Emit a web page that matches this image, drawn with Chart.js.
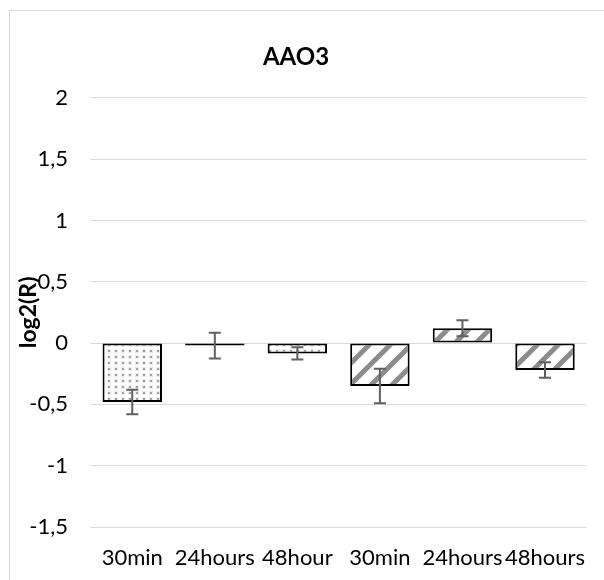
<!DOCTYPE html>
<html>
<head>
<meta charset="utf-8">
<script src="https://cdn.jsdelivr.net/npm/chart.js@4"></script>
<style>
    html, body { margin: 0; padding: 0; background: #fff; overflow: hidden; }
    #wrap { position: relative; width: 604px; height: 580px; }
    #frame { position: absolute; left: 9px; top: 10px; width: 700px; height: 700px; border: 1px solid #d9d9d9; }
    #chart { position: absolute; left: 0; top: 0; }
</style>
</head>
<body>
<div id="wrap">
    <div id="frame"></div>
    <canvas id="chart" width="604" height="580"></canvas>
</div>
<script>
// categories on the x axis
const categories = ['30min', '24hours', '48hour', '30min', '24hours', '48hours'];

// first group (dotted bars) and second group (hatched bars)
const dottedValues = [-0.48, -0.02, -0.085, null, null, null];
const dottedErrors = [0.10, 0.105, 0.05, null, null, null];
const hatchedValues = [null, null, null, -0.35, 0.12, -0.22];
const hatchedErrors = [null, null, null, 0.14, 0.065, 0.063];

// y axis ticks
const yTickValues = [-1.5, -1, -0.5, 0, 0.5, 1, 1.5, 2];
const yTickLabels = ['-1,5', '-1', '-0,5', '0', '0,5', '1', '1,5', '2'];

document.addEventListener('DOMContentLoaded', () => {
    const ctx = document.getElementById('chart').getContext('2d');

    // small dot fill like the Excel 5% pattern
    function dotPattern() {
        const c = document.createElement('canvas');
        c.width = 7;
        c.height = 6;
        const p = c.getContext('2d');
        p.fillStyle = '#fff';
        p.fillRect(0, 0, 7, 6);
        p.fillStyle = '#ececec';
        p.fillRect(2, 1, 4, 4);
        p.fillStyle = '#a0a0a0';
        p.fillRect(3, 2, 2, 2);
        return ctx.createPattern(c, 'repeat');
    }

    // wide upward diagonal stripes
    function stripePattern() {
        const s = 21;
        const c = document.createElement('canvas');
        c.width = s;
        c.height = s;
        const p = c.getContext('2d');
        p.fillStyle = '#fff';
        p.fillRect(0, 0, s, s);
        p.strokeStyle = '#8c8c8c';
        p.lineWidth = 5;
        for (const k of [-s, 0, s]) {
            p.beginPath();
            p.moveTo(k - 4, s + 4);
            p.lineTo(k + s + 4, -4);
            p.stroke();
        }
        return ctx.createPattern(c, 'repeat');
    }

    // draws the error bars using the chart's own scales
    const errorBars = {
        id: 'errorBars',
        afterDatasetsDraw(chart) {
            const y = chart.scales.y;
            const c = chart.ctx;
            c.save();
            c.strokeStyle = '#606060';
            c.lineWidth = 2;
            chart.data.datasets.forEach((ds, di) => {
                const meta = chart.getDatasetMeta(di);
                meta.data.forEach((bar, i) => {
                    const v = ds.data[i];
                    const e = ds.errors[i];
                    if (v === null || e === null) return;
                    const x = bar.x;
                    const top = y.getPixelForValue(v + e);
                    const bottom = y.getPixelForValue(v - e);
                    c.beginPath();
                    c.moveTo(x, top);
                    c.lineTo(x, bottom);
                    c.moveTo(x - 6, top);
                    c.lineTo(x + 6, top);
                    c.moveTo(x - 6, bottom);
                    c.lineTo(x + 6, bottom);
                    c.stroke();
                });
            });
            c.restore();
        }
    };

    new Chart(ctx, {
        type: 'bar',
        data: {
            labels: categories,
            datasets: [
                {
                    data: dottedValues,
                    errors: dottedErrors,
                    backgroundColor: dotPattern(),
                    borderColor: '#000',
                    borderWidth: 2,
                    borderSkipped: false
                },
                {
                    data: hatchedValues,
                    errors: hatchedErrors,
                    backgroundColor: stripePattern(),
                    borderColor: '#000',
                    borderWidth: 2,
                    borderSkipped: false
                }
            ]
        },
        options: {
            responsive: false,
            animation: false,
            layout: { padding: { left: 0, right: 12, top: 0, bottom: 0 } },
            datasets: {
                bar: { barPercentage: 0.72, categoryPercentage: 1 }
            },
            scales: {
                x: {
                    stacked: true,
                    grid: { display: false, drawTicks: false },
                    border: { display: false },
                    ticks: {
                        padding: 18,
                        color: '#000',
                        maxRotation: 0,
                        autoSkip: false,
                        font: { family: 'Lato', size: 22 }
                    },
                    afterFit: (scale) => { scale.height = 53; }
                },
                y: {
                    min: -1.5,
                    max: 2,
                    grid: { color: '#d9d9d9', lineWidth: 1, drawTicks: false },
                    border: { display: false },
                    afterBuildTicks: (scale) => {
                        scale.ticks = yTickValues.map(v => ({ value: v }));
                    },
                    ticks: {
                        padding: 23,
                        color: '#000',
                        font: { family: 'Lato', size: 22 },
                        callback: (value, index) => yTickLabels[index]
                    },
                    title: {
                        display: true,
                        text: 'log2(R)',
                        color: '#000',
                        padding: { top: 15, bottom: 0 },
                        font: { family: 'Lato', size: 23, weight: 'bold' }
                    },
                    afterFit: (scale) => { scale.width = 91; }
                }
            },
            plugins: {
                legend: { display: false },
                tooltip: { enabled: false },
                title: {
                    display: true,
                    text: 'AAO3',
                    color: '#000',
                    padding: { top: 43, bottom: 26 },
                    font: { family: 'Lato', size: 24, weight: 'bold' }
                }
            }
        },
        plugins: [errorBars]
    });
});
</script>
</body>
</html>
